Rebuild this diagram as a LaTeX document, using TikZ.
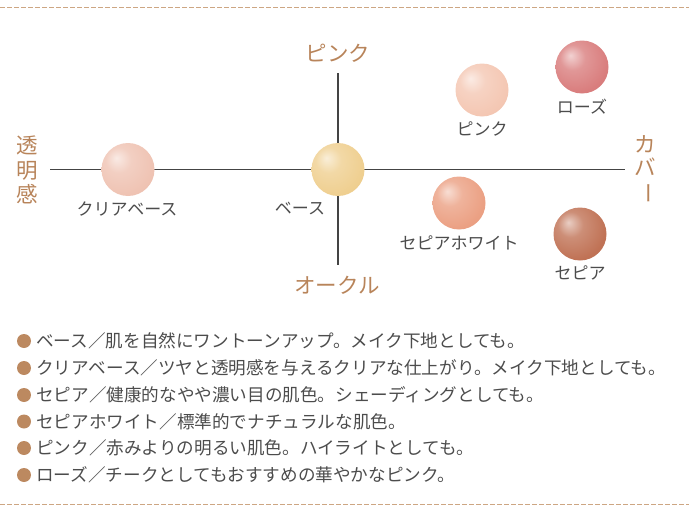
\documentclass[tikz,border=0pt]{standalone}
\usepackage{fontspec}
\setmainfont{Noto Sans CJK JP}
\usepackage{graphicx}
\usetikzlibrary{positioning}

\definecolor{axisbrown}{HTML}{B8845A}
\definecolor{dotbrown}{HTML}{BC8960}
\definecolor{dashtan}{HTML}{CDA683}
\definecolor{ink}{HTML}{4C4C4C}
\definecolor{clearc}{HTML}{EFC3B3}
\definecolor{basec}{HTML}{EFCF90}
\definecolor{pinkc}{HTML}{F4C7B3}
\definecolor{rosec}{HTML}{D97D7D}
\definecolor{whitesepiac}{HTML}{EBA083}
\definecolor{sepiac}{HTML}{C07255}
\colorlet{sphc}{white}

\pgfdeclareradialshading[sphc]{sphere}{\pgfqpoint{-11bp}{11bp}}{%
  color(0bp)=(sphc!35!white); color(12bp)=(sphc!80!white);
  color(30bp)=(sphc); color(52bp)=(sphc!93!black); color(64bp)=(sphc!90!black)}

\tikzset{
  sph/.style={circle, minimum size=53pt, inner sep=0pt,
    /utils/exec={\colorlet{sphc}{#1}}, shading=sphere},
  tag/.style={text=ink, inner sep=0pt, font=\fontsize{17}{19}\selectfont},
  axislabel/.style={text=axisbrown, inner sep=0pt, align=center,
    font=\fontsize{21.5}{24}\selectfont},
  item/.style={text=ink, inner sep=0pt, anchor=west,
    font=\fontsize{17.6}{20}\selectfont},
  dot/.style={circle, fill=dotbrown, minimum size=14pt, inner sep=0pt},
  border/.style={dashtan, line width=1.3pt, dash pattern=on 5pt off 2pt}
}

\begin{document}
\begin{tikzpicture}[x=1pt, y=-1pt]
  \useasboundingbox (0,0) rectangle (689,506);

  % dashed frame lines
  \coordinate (tl) at (0,7.5);
  \coordinate (tr) at (689,7.5);
  \coordinate (bl) at (0,504.5);
  \coordinate (br) at (689,504.5);
  \draw[border] (tl) -- (tr);
  \draw[border] (bl) -- (br);

  % axes
  \coordinate (left) at (50,169.5);
  \coordinate (right) at (625,169.5);
  \coordinate (top) at (338,73);
  \coordinate (bottom) at (338,265);
  \draw[ink!90!black, line width=1.2pt] (left) -- (right);
  \draw[ink!90!black, line width=1.2pt] (top) -- (bottom);

  \node[axislabel] (pinkax) at (338,53) {ピンク};
  \node[axislabel] (ochreax) at (337,285) {オークル};
  \node[axislabel, font=\fontsize{21.5}{24.5}\selectfont] (clearax) at (27,170) {透\\明\\感};
  \node[axislabel, font=\fontsize{21.5}{22.5}\selectfont] (coverax) at (645,170) {カ\\バ\\\rotatebox[origin=c]{-90}{ー}};

  % spheres
  \node[sph=clearc] (clear) at (128,169.5) {};
  \node[sph=basec] (base) at (338,169.5) {};
  \node[sph=pinkc] (pink) at (482,90) {};
  \node[sph=rosec] (rose) at (582,67) {};
  \node[sph=whitesepiac] (whitesepia) at (459,203) {};
  \node[sph=sepiac] (sepia) at (580,234) {};

  \node[tag] (clearl) at (127,209) {クリアベース};
  \node[tag] (basel) at (300,209) {ベース};
  \node[tag] (pinkl) at (482,129) {ピンク};
  \node[tag] (rosel) at (582,107) {ローズ};
  \node[tag] (whitesepial) at (459,243) {セピアホワイト};
  \node[tag] (sepial) at (580,273) {セピア};

  % legend
  \node[dot] (d1) at (24,341) {};
  \node[dot] (d2) at (24,368) {};
  \node[dot] (d3) at (24,395) {};
  \node[dot] (d4) at (24,421.5) {};
  \node[dot] (d5) at (24,448) {};
  \node[dot] (d6) at (24,475) {};
  \node[item, right=5pt of d1] (t1) {ベース／肌を自然にワントーンアップ。メイク下地としても。};
  \node[item, right=5pt of d2] (t2) {クリアベース／ツヤと透明感を与えるクリアな仕上がり。メイク下地としても。};
  \node[item, right=5pt of d3] (t3) {セピア／健康的なやや濃い目の肌色。シェーディングとしても。};
  \node[item, right=5pt of d4] (t4) {セピアホワイト／標準的でナチュラルな肌色。};
  \node[item, right=5pt of d5] (t5) {ピンク／赤みよりの明るい肌色。ハイライトとしても。};
  \node[item, right=5pt of d6] (t6) {ローズ／チークとしてもおすすめの華やかなピンク。};
\end{tikzpicture}
\end{document}
